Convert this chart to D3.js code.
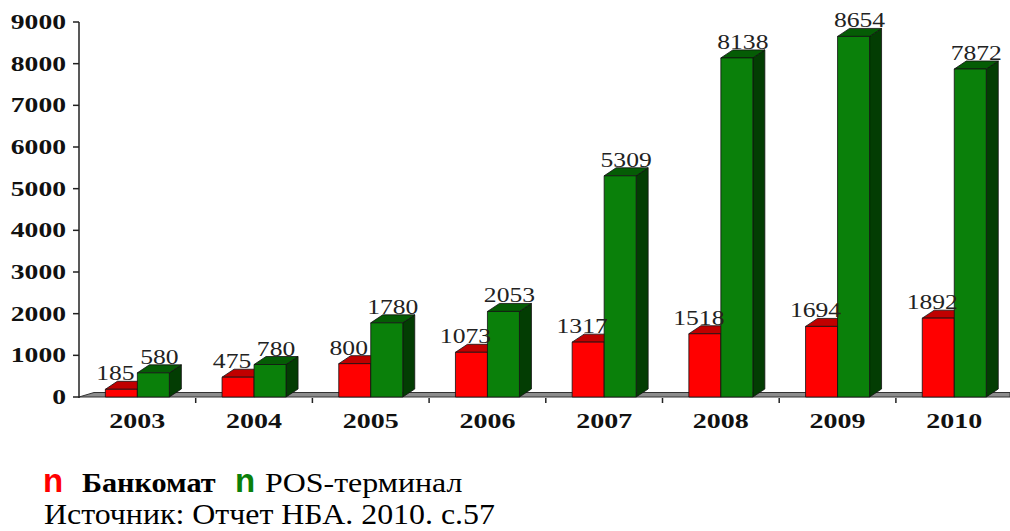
<!DOCTYPE html>
<html>
<head>
<meta charset="utf-8">
<script src="https://cdn.jsdelivr.net/npm/d3@7"></script>
<style>
  html, body { margin: 0; padding: 0; background: #fff; }
  svg { display: block; }
</style>
</head>
<body>
<svg id="chart" width="1010" height="531"></svg>
<script>
// Number of ATMs and POS terminals by year
const years = ["2003", "2004", "2005", "2006", "2007", "2008", "2009", "2010"];
const atm = [185, 475, 800, 1073, 1317, 1518, 1694, 1892];
const pos = [580, 780, 1780, 2053, 5309, 8138, 8654, 7872];
const yTicks = [0, 1000, 2000, 3000, 4000, 5000, 6000, 7000, 8000, 9000];
const seriesNames = ["Банкомат", "POS-терминал"];
const sourceNote = "Источник: Отчет НБА. 2010. с.57";

const svg = d3.select("#chart");
const serif = "'Liberation Serif', 'Times New Roman', serif";

const x0 = 79, x1 = 1012.6, yBase = 397, yTop = 22;
const x = d3.scaleBand().domain(years).range([x0, x1]).padding(0);
const y = d3.scaleLinear().domain([0, 9000]).range([yBase, yTop]);

const bw = 32;           // bar front width
const ddx = 12, ddy = 8; // 3D depth offset

const series = [
  { name: seriesNames[0], values: atm, front: "#ff0000", top: "#c00000", side: "#8a0000", off: -bw, lab: -6 },
  { name: seriesNames[1], values: pos, front: "#0a800a", top: "#055c05", side: "#033d03", off: 0, lab: 6 }
];

// Floor of the 3D plot
svg.append("polygon")
  .attr("points", [[x0, yBase], [1010, yBase], [1010, yBase - 4.5], [x0 + 15, yBase - 4.5]].map(p => p.join(",")).join(" "))
  .attr("fill", "#8c8c8c").attr("stroke", "#333").attr("stroke-width", 1);

// Bars
const g = svg.append("g");
years.forEach((yr, i) => {
  const cx = x(yr) + x.bandwidth() / 2;
  series.forEach(s => {
    const v = s.values[i];
    const xl = cx + s.off, xr = xl + bw;
    const yt = y(v), yb = y(0);
    const bar = g.append("g").attr("stroke", "#111").attr("stroke-width", 0.8).attr("stroke-linejoin", "round");
    // side face
    bar.append("polygon")
      .attr("points", [[xr, yb], [xr + ddx, yb - ddy], [xr + ddx, yt - ddy], [xr, yt]].map(p => p.join(",")).join(" "))
      .attr("fill", s.side);
    // top face
    bar.append("polygon")
      .attr("points", [[xl, yt], [xl + ddx, yt - ddy], [xr + ddx, yt - ddy], [xr, yt]].map(p => p.join(",")).join(" "))
      .attr("fill", s.top);
    // front face
    bar.append("rect")
      .attr("x", xl).attr("y", yt).attr("width", bw).attr("height", yb - yt)
      .attr("fill", s.front);
  });
});

// Value labels
years.forEach((yr, i) => {
  const cx = x(yr) + x.bandwidth() / 2;
  series.forEach(s => {
    const v = s.values[i];
    const lx = cx + s.off + bw / 2 + s.lab;
    const ly = y(v) - ddy - 1;
    svg.append("text")
      .attr("transform", `translate(${lx},${ly}) scale(1.28,1)`)
      .attr("text-anchor", "middle")
      .attr("font-family", serif).attr("font-size", 20).attr("fill", "#222")
      .text(v);
  });
});

// Y axis
const yAxis = svg.append("g");
yAxis.append("line").attr("x1", x0).attr("x2", x0).attr("y1", yTop).attr("y2", yBase + 1)
  .attr("stroke", "#222").attr("stroke-width", 1.5);
yTicks.forEach(t => {
  yAxis.append("line").attr("x1", x0 - 6).attr("x2", x0).attr("y1", y(t)).attr("y2", y(t))
    .attr("stroke", "#222").attr("stroke-width", 1.5);
  yAxis.append("text")
    .attr("transform", `translate(66,${y(t) + 7}) scale(1.38,1)`)
    .attr("text-anchor", "end")
    .attr("font-family", serif).attr("font-size", 20).attr("font-weight", "bold").attr("fill", "#111")
    .text(t);
});

// X axis ticks and labels
const xAxis = svg.append("g");
years.forEach((yr, i) => {
  if (i > 0) {
    xAxis.append("line").attr("x1", x(yr)).attr("x2", x(yr)).attr("y1", yBase + 1).attr("y2", yBase + 6)
      .attr("stroke", "#222").attr("stroke-width", 1.5);
  }
  xAxis.append("text")
    .attr("transform", `translate(${x(yr) + x.bandwidth() / 2},428) scale(1.4,1)`)
    .attr("text-anchor", "middle")
    .attr("font-family", serif).attr("font-size", 20).attr("font-weight", "bold").attr("fill", "#111")
    .text(yr);
});

// Legend
const leg = svg.append("g");
const legItems = [
  { marker: "#ff0000", label: seriesNames[0], x: 43, tx: 82, bold: true, sx: 1.08 },
  { marker: "#0a800a", label: seriesNames[1], x: 235, tx: 265, bold: false, sx: 1.14 }
];
legItems.forEach(it => {
  leg.append("text").attr("x", it.x).attr("y", 492)
    .attr("font-family", "'Liberation Sans', Arial, sans-serif").attr("font-size", 33).attr("font-weight", "bold")
    .attr("fill", it.marker).text("n");
  leg.append("text").attr("transform", `translate(${it.tx},492) scale(${it.sx},1)`)
    .attr("font-family", serif).attr("font-size", 28).attr("font-weight", it.bold ? "bold" : "normal")
    .attr("fill", "#000").text(it.label);
});
leg.append("text").attr("transform", "translate(44,524) scale(1.1,1)")
  .attr("font-family", serif).attr("font-size", 29).attr("fill", "#000")
  .text(sourceNote);
</script>
</body>
</html>
